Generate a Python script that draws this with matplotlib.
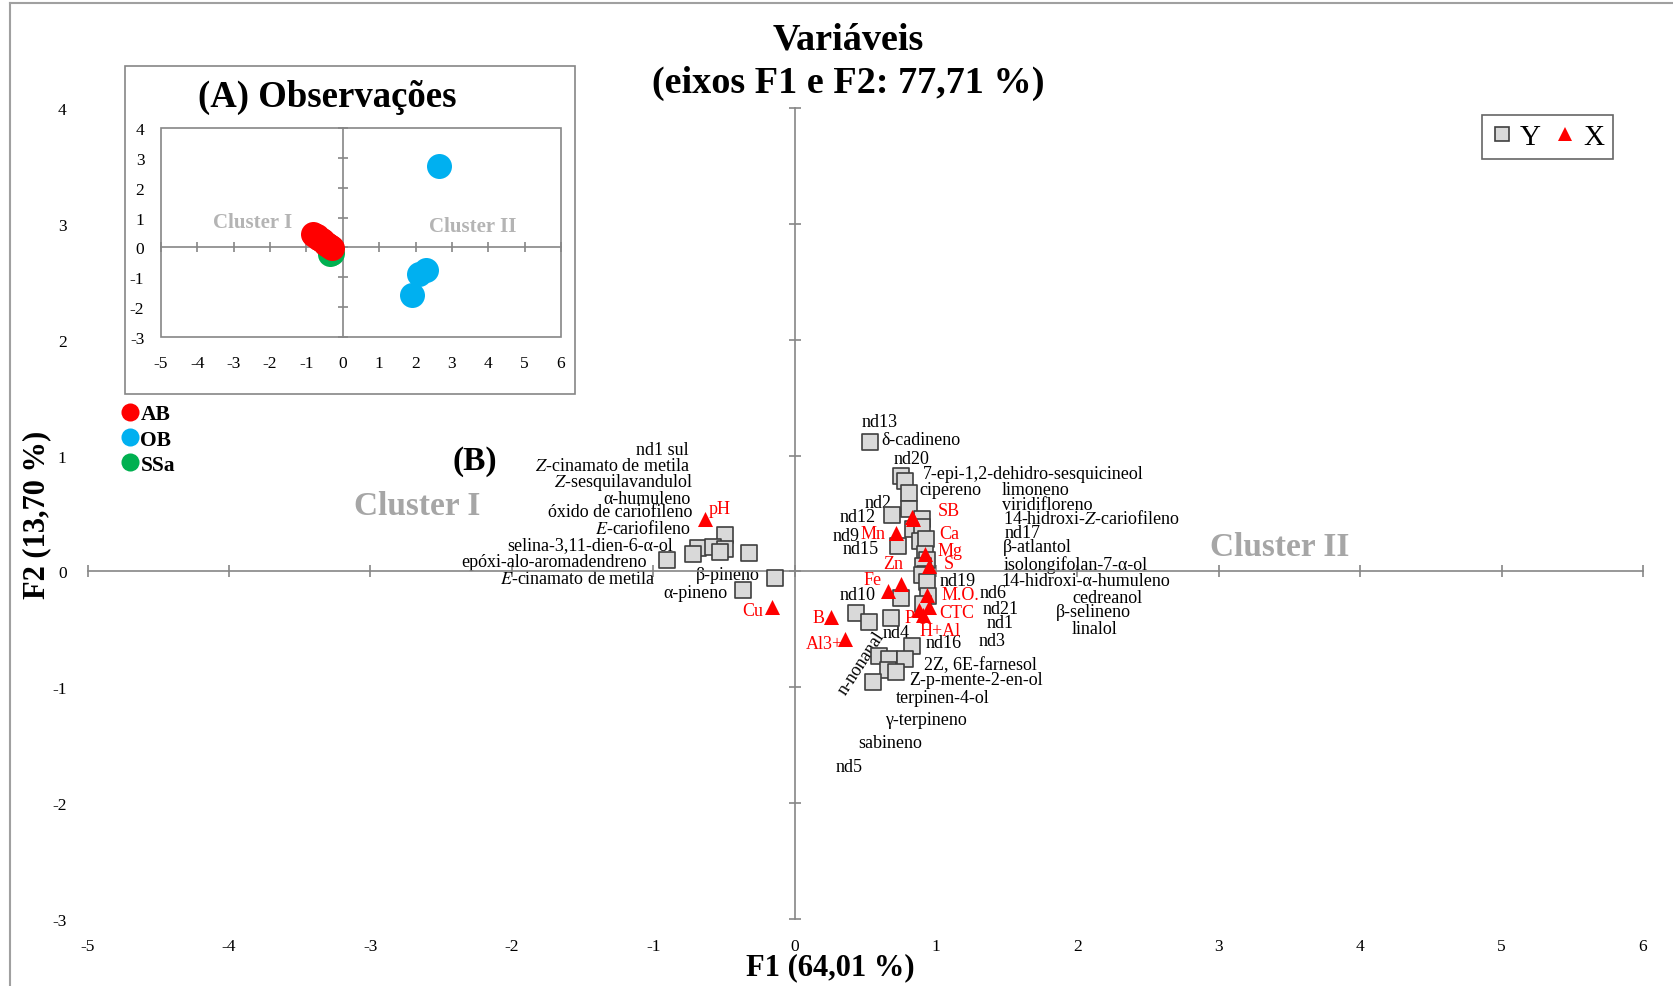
import numpy as np
import matplotlib.pyplot as plt
from matplotlib.lines import Line2D
from matplotlib.patches import Rectangle

plt.rcParams['font.family'] = 'Liberation Serif'
plt.rcParams['mathtext.fontset'] = 'stix'
plt.rcParams['axes.unicode_minus'] = False

# %% data - (A) observations
ab_x = [-0.82, -0.78, -0.72, -0.68, -0.63, -0.58, -0.55, -0.50, -0.46, -0.42, -0.38, -0.33, -0.30]
ab_y = [0.45, 0.42, 0.37, 0.33, 0.28, 0.24, 0.20, 0.16, 0.12, 0.08, 0.04, 0.00, -0.03]
ob_x = [2.65, 2.10, 2.30, 1.89]
ob_y = [2.72, -0.88, -0.75, -1.59]
ssa_x = [-0.45, -0.38, -0.35, -0.30]
ssa_y = [0.12, 0.00, -0.22, -0.18]

# %% data - (B) variables, Y (squares)
y_x = [0.535, 0.75, 0.78, 0.81, 0.69, 0.81, 0.90, 0.84, 0.90,
       0.73, 0.89, 0.93, 0.92, 0.94, 0.91, 0.92, 0.90, 0.94, 0.945, 0.91,
       0.755, 0.437, 0.53, 0.68, 0.83, 0.60, 0.67, 0.78, 0.66, 0.72, 0.555,
       -0.495, -0.68, -0.58, -0.495, -0.72, -0.53, -0.90, -0.325, -0.14, -0.365]
y_y = [1.12, 0.82, 0.78, 0.68, 0.49, 0.535, 0.455, 0.37, 0.38,
       0.22, 0.26, 0.28, 0.15, 0.10, 0.05, -0.02, -0.03, -0.09, -0.21, -0.28,
       -0.23, -0.36, -0.44, -0.40, -0.645, -0.73, -0.755, -0.76, -0.855, -0.87, -0.955,
       0.317, 0.20, 0.215, 0.196, 0.15, 0.17, 0.10, 0.16, -0.06, -0.16]

# Y labels (text, x, y, alignment)
y_lab = ['nd13', 'δ-cadineno', 'nd20', '7-epi-1,2-dehidro-sesquicineol', 'cipereno',
         'limoneno', 'nd2', 'viridifloreno', 'nd12', '14-hidroxi-$\\mathit{Z}$-cariofileno',
         'nd9', 'nd17', 'nd15', 'β-atlantol', 'isolongifolan-7-α-ol', 'nd19',
         '14-hidroxi-α-humuleno', 'nd10', 'nd6', 'cedreanol', 'nd21', 'β-selineno',
         'nd1', 'linalol', 'nd4', 'nd16', 'nd3', '2Z, 6E-farnesol', 'Z-p-mente-2-en-ol',
         'terpinen-4-ol', 'γ-terpineno', 'sabineno', 'nd5',
         'nd1 sul', '$\\mathit{Z}$-cinamato de metila', '$\\mathit{Z}$-sesquilavandulol',
         'α-humuleno', 'óxido de cariofileno', '$\\mathit{E}$-cariofileno',
         'selina-3,11-dien-6-α-ol', 'epóxi-alo-aromadendreno',
         '$\\mathit{E}$-cinamato de metila', 'β-pineno', 'α-pineno']
y_lab_x = [0.471, 0.613, 0.70, 0.907, 0.883, 1.468, 0.495, 1.468, 0.318, 1.472,
           0.266, 1.484, 0.337, 1.472, 1.479, 1.025, 1.461, 0.318, 1.307, 1.967,
           1.331, 1.849, 1.355, 1.963, 0.624, 0.926, 1.30, 0.912, 0.808, 0.714,
           0.643, 0.447, 0.29,
           -0.747, -0.737, -0.719, -0.737, -0.723, -0.730, -0.860, -1.048, -0.982,
           -0.247, -0.471]
y_lab_y = [1.295, 1.14, 0.973, 0.844, 0.708, 0.708, 0.599, 0.576, 0.475, 0.461,
           0.311, 0.334, 0.202, 0.211, 0.066, -0.078, -0.078, -0.201, -0.178, -0.221,
           -0.316, -0.345, -0.437, -0.489, -0.523, -0.61, -0.596, -0.806, -0.933, -1.085,
           -1.278, -1.479, -1.68,
           1.054, 0.915, 0.772, 0.628, 0.513, 0.375, 0.231, 0.086, -0.063,
           -0.026, -0.178]
y_lab_ha = ['left'] * 33 + ['right'] * 11

# %% data - (B) variables, X (triangles)
x_lab = ['pH', 'Cu', 'SB', 'Ca', 'Mn', 'Mg', 'S', 'Zn', 'Fe', 'M.O.', 'CTC', 'P',
         'H+Al', 'B', 'Al3+']
x_x = [-0.636, -0.16, 0.83, 0.84, 0.72, 0.92, 0.95, 0.75, 0.66, 0.94, 0.95, 0.88,
       0.91, 0.26, 0.36]
x_y = [0.455, -0.31, 0.47, 0.45, 0.33, 0.15, 0.05, -0.11, -0.17, -0.20, -0.31, -0.33,
       -0.38, -0.39, -0.58]
x_lab_x = [-0.606, -0.224, 1.013, 1.02, 0.464, 1.013, 1.053, 0.624, 0.488, 1.037,
           1.025, 0.777, 0.883, 0.129, 0.083]
x_lab_y = [0.541, -0.337, 0.527, 0.326, 0.326, 0.181, 0.066, 0.066, -0.072, -0.201,
           -0.351, -0.394, -0.51, -0.394, -0.624]
x_lab_ha = ['left', 'right'] + ['left'] * 13

ticks_x = np.arange(-5, 7)
ticks_y = np.arange(-3, 5)
grey = '#868686'
lab_size = 13

fig = plt.figure(figsize=(16.73, 9.87), dpi=100)

# %% main plot (B)
ax = fig.add_axes([87.5 / 1673, 1 - 920 / 987, (1643 - 87.5) / 1673, 811 / 987])
ax.set_xlim(-5, 6)
ax.set_ylim(-3, 4)
for s in ['top', 'right']:
    ax.spines[s].set_visible(False)
for s in ['left', 'bottom']:
    ax.spines[s].set_position(('data', 0))
    ax.spines[s].set_color(grey)
    ax.spines[s].set_linewidth(1.2)
ax.set_xticks(ticks_x)
ax.set_yticks(ticks_y)
ax.tick_params(direction='inout', length=9, width=1.2, color=grey,
               labelleft=False, labelbottom=False)

sy = ax.secondary_yaxis('left')
sy.set_ticks(ticks_y)
sy.tick_params(length=0, pad=15, labelsize=12.5)
sx = ax.secondary_xaxis('bottom')
sx.set_ticks(ticks_x)
sx.tick_params(length=0, pad=14, labelsize=12.5)
for sec in (sx, sy):
    for sp in sec.spines.values():
        sp.set_visible(False)

ax.scatter(y_x, y_y, marker='s', s=117, facecolor='#d9d9d9', edgecolor='#3f3f3f',
           linewidth=1.2, zorder=3)
ax.scatter(x_x, x_y, marker='^', s=117, color='#ff0000', linewidth=0, zorder=4)

for t, lx, ly, ha in zip(y_lab, y_lab_x, y_lab_y, y_lab_ha):
    ax.text(lx, ly, t, ha=ha, va='center', fontsize=lab_size, color='black', zorder=2)
for t, lx, ly, ha in zip(x_lab, x_lab_x, x_lab_y, x_lab_ha):
    ax.text(lx, ly, t, ha=ha, va='center', fontsize=lab_size, color='#ff0000', zorder=2)
ax.text(0.471, -0.782, 'n-nonanal', rotation=57, ha='center', va='center',
        fontsize=lab_size, zorder=2)

ax.text(-2.67, 0.567, 'Cluster I', ha='center', va='center', fontsize=24,
        fontweight='bold', color='#a6a6a6')
ax.text(3.43, 0.218, 'Cluster II', ha='center', va='center', fontsize=24,
        fontweight='bold', color='#a6a6a6')
ax.text(-2.26, 0.959, '(B)', ha='center', va='center', fontsize=24, fontweight='bold')

leg_y = [Line2D([], [], marker='s', ls='none', markersize=10, markerfacecolor='#d9d9d9',
                markeredgecolor='#3f3f3f', markeredgewidth=1.2),
         Line2D([], [], marker='^', ls='none', markersize=10, color='#ff0000',
                markeredgewidth=0)]
lg = fig.legend(leg_y, ['Y', 'X'], loc='upper left',
                bbox_to_anchor=(1481.7 / 1673, 1 - 115.7 / 987), ncol=2,
                fontsize=21, fancybox=False, edgecolor='#404040', handlelength=0.8,
                handletextpad=0.2, columnspacing=0.45, borderpad=0.3, borderaxespad=0)
lg.get_frame().set_linewidth(1.2)

# %% inset (A)
box = Rectangle((125 / 1673, 1 - 395 / 987), 450 / 1673, 328 / 987,
                transform=fig.transFigure, facecolor='white', edgecolor=grey,
                linewidth=1.2, zorder=1)
fig.add_artist(box)

ia = fig.add_axes([161 / 1673, 1 - 338 / 987, 400 / 1673, 209 / 987])
ia.set_zorder(2)
ia.set_xlim(-5, 6)
ia.set_ylim(-3, 4)
for s in ['top', 'right']:
    ia.spines[s].set_visible(False)
for s in ['left', 'bottom']:
    ia.spines[s].set_position(('data', 0))
    ia.spines[s].set_color(grey)
    ia.spines[s].set_linewidth(1.2)
ia.add_patch(Rectangle((0, 0), 1, 1, transform=ia.transAxes, fill=False,
                       edgecolor=grey, linewidth=1.2, clip_on=False))
ia.set_xticks(ticks_x)
ia.set_yticks(ticks_y)
ia.tick_params(direction='inout', length=7, width=1.2, color=grey,
               labelleft=False, labelbottom=False)
isy = ia.secondary_yaxis('left')
isy.set_ticks(ticks_y)
isy.tick_params(length=0, pad=12, labelsize=12.5)
isx = ia.secondary_xaxis('bottom')
isx.set_ticks(ticks_x)
isx.tick_params(length=0, pad=13, labelsize=12.5)
for sec in (isx, isy):
    for sp in sec.spines.values():
        sp.set_visible(False)

ia.scatter(ssa_x, ssa_y, s=324, color='#00b050', linewidth=0, zorder=3)
ia.scatter(ob_x, ob_y, s=324, color='#00b0f0', linewidth=0, zorder=3)
ia.scatter(ab_x, ab_y, s=324, color='#ff0000', linewidth=0, zorder=4)
ia.text(-2.47, 0.84, 'Cluster I', ha='center', va='center', fontsize=15,
        fontweight='bold', color='#b4b4b4')
ia.text(3.58, 0.73, 'Cluster II', ha='center', va='center', fontsize=15,
        fontweight='bold', color='#b4b4b4')
fig.text(327 / 1673, 1 - 97 / 987, '(A) Observações', ha='center', va='center',
         fontsize=26.5, fontweight='bold')

leg_a = [Line2D([], [], marker='o', ls='none', markersize=13, color=c, markeredgewidth=0)
         for c in ['#ff0000', '#00b0f0', '#00b050']]
fig.legend(leg_a, ['AB', 'OB', 'SSa'], loc='upper left',
           bbox_to_anchor=(121 / 1673, 1 - 405 / 987), frameon=False,
           prop={'size': 15.5, 'weight': 'bold'}, handlelength=0.8, handletextpad=0.1,
           labelspacing=0.25, borderpad=0, borderaxespad=0)

# %% titles, axis labels, frame
fig.text(848 / 1673, 1 - 39.5 / 987, 'Variáveis', ha='center', va='center',
         fontsize=27.5, fontweight='bold')
fig.text(848 / 1673, 1 - 83 / 987, '(eixos F1 e F2: 77,71 %)', ha='center',
         va='center', fontsize=27.5, fontweight='bold')
fig.text(830 / 1673, 1 - 968 / 987, 'F1 (64,01 %)', ha='center', va='center',
         fontsize=22, fontweight='bold')
fig.text(37 / 1673, 1 - 515 / 987, 'F2 (13,70 %)', ha='center', va='center',
         fontsize=22, fontweight='bold', rotation=90)
fig.add_artist(Line2D([10 / 1673, 1], [1 - 4 / 987, 1 - 4 / 987], color='#a0a0a0',
                      linewidth=1.5, transform=fig.transFigure))
fig.add_artist(Line2D([10 / 1673, 10 / 1673], [0, 1 - 4 / 987], color='#a0a0a0',
                      linewidth=1.5, transform=fig.transFigure))

fig.savefig('out.png', dpi=100)
